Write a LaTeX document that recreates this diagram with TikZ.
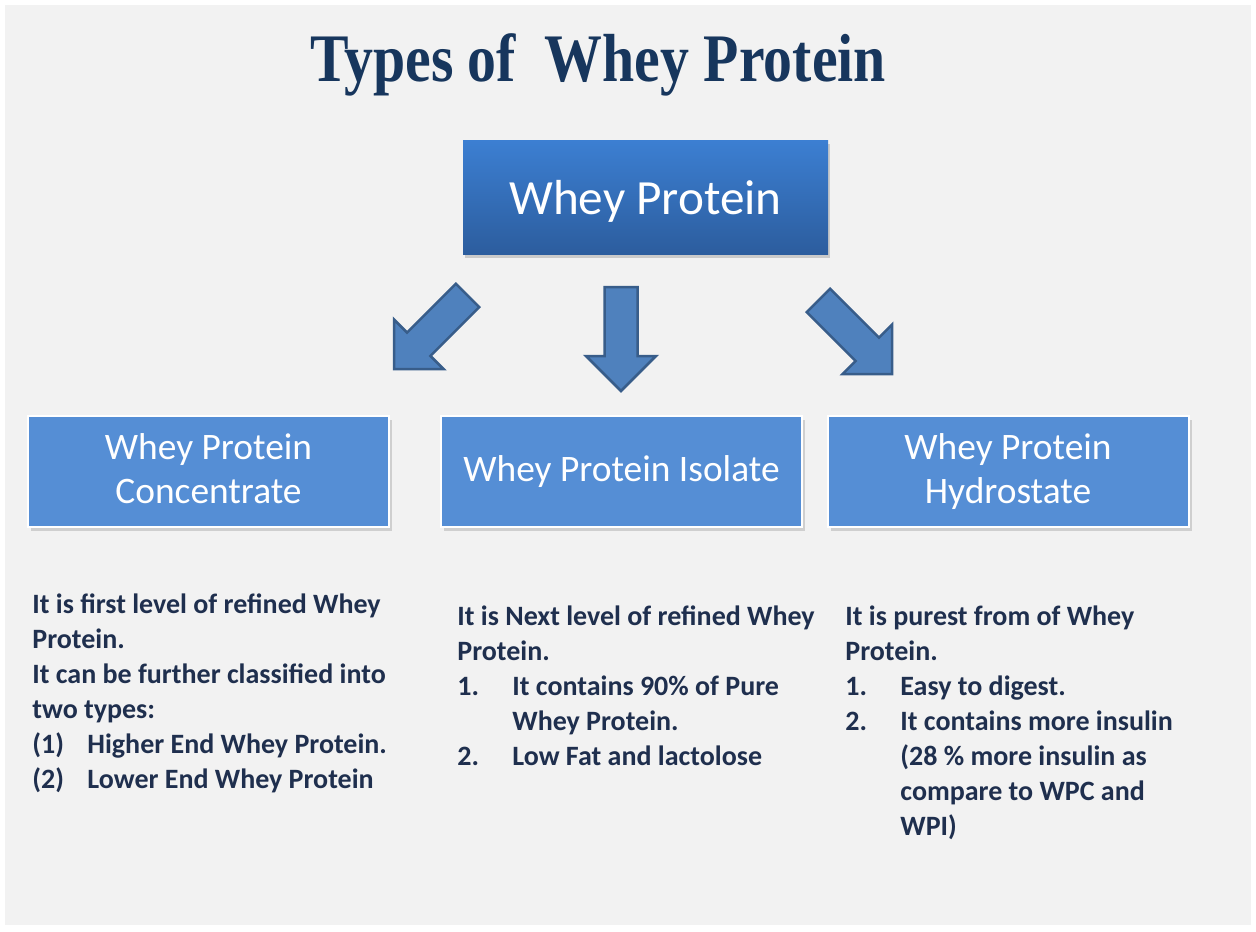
\documentclass[tikz,border=0pt]{standalone}
\usepackage{fontspec}
\setmainfont{Carlito}
\newfontfamily\titlefont{Liberation Serif}
\usetikzlibrary{shadows}
\definecolor{pagegray}{HTML}{F2F2F2}
\definecolor{titleblue}{HTML}{17365D}
\definecolor{toptone}{HTML}{3C7FD2}
\definecolor{bottone}{HTML}{2C5D9E}
\definecolor{typeblue}{HTML}{558ED5}
\definecolor{arrowfill}{HTML}{4F81BD}
\definecolor{arrowline}{HTML}{385D8A}
\definecolor{notecolor}{HTML}{1F2F4E}
\newcommand{\listno}[1]{\makebox[27.5pt][l]{#1}}
\begin{document}
\begin{tikzpicture}[x=0.5pt,y=-0.5pt,
  titletext/.style={anchor=base,inner sep=0,text=titleblue,font=\titlefont\bfseries\fontsize{34}{40}\selectfont},
  mainbox/.style={top color=toptone,bottom color=bottone,draw=none,minimum width=182.5pt,minimum height=57pt,
    text depth=0pt,text=white,font=\fontsize{24.6}{29}\selectfont,drop shadow={shadow xshift=1pt,shadow yshift=-2pt,opacity=0.35}},
  typebox/.style={fill=typeblue,draw=white,line width=1pt,minimum width=180.5pt,minimum height=55.5pt,align=center,
    text=white,font=\fontsize{18.7}{22}\selectfont,drop shadow={shadow xshift=1.5pt,shadow yshift=-2pt,opacity=0.3}},
  notetext/.style={anchor=base west,inner sep=0,text=notecolor,font=\bfseries\fontsize{14}{16}\selectfont},
  blockarrow/.style={fill=arrowfill,draw=arrowline,line width=1.25pt,line join=miter}]

\useasboundingbox (0,0) rectangle (1256,931);
\fill[pagegray] (5,5) rectangle (1251,925);

\node[titletext] (title) at (598,82) {\scalebox{0.85}[1]{Types of\ \ Whey Protein}};

\node[mainbox] (whey) at (645.5,197) {Whey Protein};
\node[typebox] (wpc) at (208.5,471.5) {Whey Protein\\Concentrate\vphantom{y}};
\node[typebox] (wpi) at (621.5,471.5) {Whey Protein Isolate};
\node[typebox] (wph) at (1008,471.5) {Whey Protein\\Hydrostate};

% block arrows
\foreach \x/\y/\a in {394/369/-135,621/391/-90,892/374/-45}
  \draw[blockarrow,shift={(\x,\y)},rotate=\a] (0,0) -- (-35,35) -- (-35,16.5) -- (-104,16.5)
    -- (-104,-16.5) -- (-35,-16.5) -- (-35,-35) -- cycle;

% notes under the boxes
\foreach \txt [count=\i] in {It is first level of refined Whey,Protein.,It can be further classified into,two types:,
  {\listno{(1)}Higher End Whey Protein.},{\listno{(2)}Lower End Whey Protein}}
  \node[notetext] (wpcnote\i) at (32,578+35*\i) {\txt};
\foreach \txt [count=\i] in {It is Next level of refined Whey,Protein.,{\listno{1.}It contains 90\% of Pure},
  {\listno{}Whey Protein.},{\listno{2.}Low Fat and lactolose}}
  \node[notetext] (wpinote\i) at (457,590+35*\i) {\txt};
\foreach \txt [count=\i] in {It is purest from of Whey,Protein.,{\listno{1.}Easy to digest.},
  {\listno{2.}It contains more insulin},{\listno{}(28 \% more insulin as},{\listno{}compare to WPC and},{\listno{}WPI)}}
  \node[notetext] (wphnote\i) at (845,590+35*\i) {\txt};

\end{tikzpicture}
\end{document}
